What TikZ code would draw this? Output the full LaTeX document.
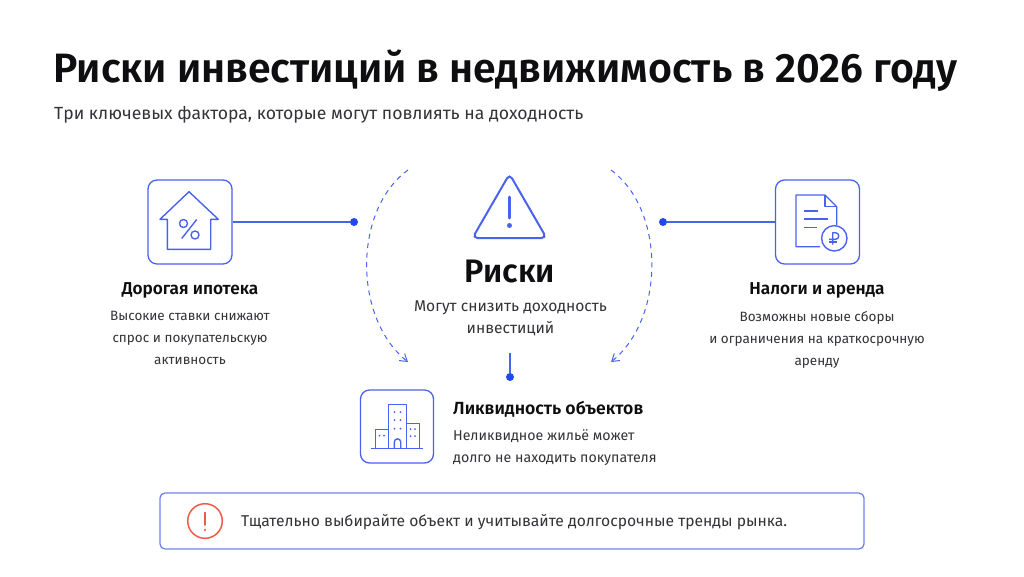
\documentclass[tikz,border=0pt]{standalone}
\usepackage{fontspec}
\setmainfont{Fira Sans}[BoldFont={Fira Sans SemiBold}]
\usetikzlibrary{arrows.meta}
\definecolor{bl}{HTML}{4A63EE}
\definecolor{dotc}{HTML}{2447F0}
\definecolor{soft}{HTML}{6F82F0}
\definecolor{redc}{HTML}{EE5B48}
\definecolor{ink}{HTML}{0E0E10}
\definecolor{gr}{HTML}{333338}
\newcommand{\fs}[2]{\fontsize{#1}{#2}\selectfont}
\tikzset{
  x=1pt,y=-1pt,
  iconbox/.style={draw=bl,line width=1.3pt,rounded corners=9pt,inner sep=0pt,minimum width=#1,minimum height=#1},
  dotn/.style={circle,fill=dotc,inner sep=0pt,minimum size=8pt},
  conn/.style={draw=bl,line width=1.5pt},
  arc/.style={draw=bl,line width=1pt,dash pattern=on 5pt off 4.5pt,-{Straight Barb[length=7pt,width=9pt,line width=1pt]}},
  ico/.style={draw=bl,line width=1.4pt,line join=round},
  head/.style={font=\fs{17.2}{20}\bfseries,text=ink,inner sep=0pt},
  desc/.style={font=\fs{13.5}{22},text=gr,align=center,inner sep=0pt},
  descl/.style={font=\fs{14.2}{22},text=gr,align=left,inner sep=0pt,anchor=north west},
}
\begin{document}
\begin{tikzpicture}
\useasboundingbox[fill=white] (0,0) rectangle (1024,576);
% heading
\node[anchor=base west,inner sep=0pt,font=\fs{41}{48}\bfseries,text=ink] (title) at (53,82) {Риски инвестиций в недвижимость в 2026 году};
\node[anchor=base west,inner sep=0pt,font=\fs{17.6}{22},text=gr] (sub) at (54,119.5) {Три ключевых фактора, которые могут повлиять на доходность};
% boxes
\node[iconbox=84pt] (bleft) at (190,222) {};
\node[iconbox=84pt] (bright) at (817.5,222) {};
\node[iconbox=73pt] (bbot) at (397,426.5) {};
\node[draw=soft,line width=1.3pt,rounded corners=5pt,minimum width=704pt,minimum height=56pt,inner sep=0pt] (banner) at (512,521) {};
% dots and connectors
\node[dotn] (dl) at (354,222) {};
\node[dotn] (dr) at (663,222) {};
\node[dotn] (db) at (510,377) {};
\coordinate (ct) at (510,353);
\draw[conn] (bleft.east) -- (dl);
\draw[conn] (bright.west) -- (dr);
\draw[conn] (ct) -- (db);
% dashed arcs
\coordinate (al1) at (408,170); \coordinate (al2) at (408,362);
\coordinate (ar1) at (611,170); \coordinate (ar2) at (611,362);
\draw[arc] (al1) .. controls (353,210) and (353,318) .. (al2);
\draw[arc] (ar1) .. controls (665.3,210) and (665.3,318) .. (ar2);
% warning triangle
\draw[draw=bl,line width=2pt,rounded corners=5pt] (509.5,174) -- (546.5,238) -- (472.5,238) -- cycle;
\draw[draw=bl,line width=3pt,line cap=round] (509.5,197) -- (509.5,218);
\fill[bl] (509.5,225.5) circle (2.5);
% house icon
\draw[ico] (167.3,219.3) -- (160,219.3) -- (189,191.7) -- (218.3,219.3) -- (210.7,219.3) -- (210.7,249.3) -- (167.3,249.3) -- cycle;
\draw[ico] (196.7,219.5) -- (181.7,238.5);
\draw[ico] (183.5,223.5) circle (4);
\draw[ico] (195,235) circle (4);
% document icon
\draw[ico] (820,246.7) -- (796,246.7) -- (796,195) -- (825,195) -- (836.7,206.7) -- (836.7,225);
\draw[ico] (825,195) -- (825,206.7) -- (836.7,206.7);
\draw[draw=bl,line width=1.8pt] (804,210.7) -- (818.3,210.7);
\draw[ico] (804,219) -- (828.3,219);
\draw[ico] (804,227.3) -- (816.7,227.3);
\draw[ico] (834.3,238.3) circle (12.7);
\draw[ico] (832.7,244.5) -- (832.7,232.7) -- (835.5,232.7) arc[start angle=-90,end angle=90,radius=3.3] -- (829,239.3);
\draw[ico] (829,242) -- (837,242);
% buildings icon
\draw[ico] (371,448.3) -- (422.7,448.3);
\draw[ico] (388.3,448.3) -- (388.3,404.3) -- (406.7,404.3) -- (406.7,448.3);
\draw[ico] (388.3,429.3) -- (375.3,429.3) -- (375.3,448.3);
\draw[ico] (406.7,423.3) -- (419.3,423.3) -- (419.3,448.3);
\draw[ico] (394.3,448.3) -- (394.3,442) arc[start angle=180,end angle=360,radius=3.2] -- (400.7,448.3);
\foreach \px/\py in {394.5/412,400.5/412,394.5/420,400.5/420,394.5/428.5,400.5/428.5,379.5/435.5,384/435.5,410.5/429,415/429,410.5/436,415/436}
  \fill[bl] (\px,\py) circle (1);
% banner warning
\draw[draw=redc,line width=1.5pt] (205,521) circle (17.3);
\draw[draw=redc,line width=1.6pt,line cap=round] (205,512.5) -- (205,525);
\fill[redc] (205,529.8) circle (1.3);
% texts
\node[inner sep=0pt,font=\fs{32.5}{38}\bfseries,text=ink,anchor=base] (risk) at (510,282) {Риски};
\node[font=\fs{15.6}{22},text=gr,align=center,inner sep=0pt,anchor=north] (riskd) at (510.5,301) {Могут снизить доходность\\инвестиций};
\node[head,anchor=base] (h1) at (190,294) {Дорогая ипотека};
\node[desc,anchor=north] (d1) at (190,311) {Высокие ставки снижают\\спрос и покупательскую\\активность};
\node[head,anchor=base] (h2) at (817,294) {Налоги и аренда};
\node[desc,anchor=north] (d2) at (817,311) {Возможны новые сборы\\и ограничения на краткосрочную\\аренду};
\node[head,font=\fs{17.6}{20}\bfseries,anchor=base west] (h3) at (453,414) {Ликвидность объектов};
\node[descl] (d3) at (453,429.5) {Неликвидное жильё может\\долго не находить покупателя};
\node[anchor=base west,inner sep=0pt,font=\fs{15.65}{20},text=gr] (tip) at (241,526) {Тщательно выбирайте объект и учитывайте долгосрочные тренды рынка.};
\end{tikzpicture}
\end{document}
